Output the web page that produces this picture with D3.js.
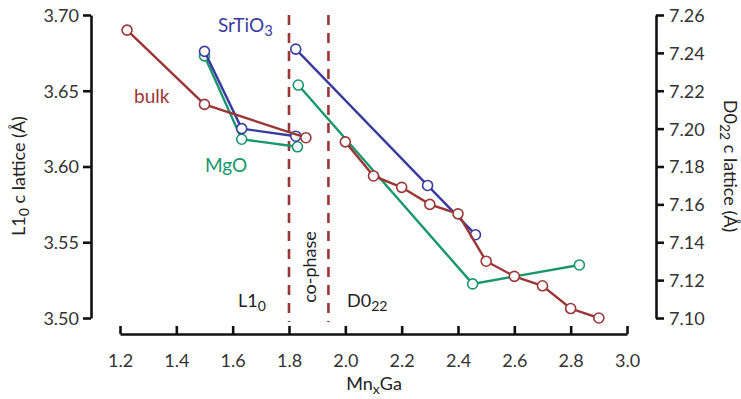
<!DOCTYPE html>
<html>
<head>
<meta charset="utf-8">
<script src="https://cdn.jsdelivr.net/npm/d3@7"></script>
<style>
  body { margin: 0; background: #fff; }
  svg text { font-family: Lato, "Open Sans", sans-serif; fill: #222; }
  .axis path, .axis line { stroke: #111; stroke-width: 2.6; }
  .axis text { font-size: 18px; fill: #333; }
</style>
</head>
<body>
<div id="chart"></div>
<script>
// composition x in MnxGa
var bulkL10X = [1.225, 1.50, 1.86];
var bulkL10C = [3.690, 3.641, 3.619];
var bulkD022X = [2.00, 2.10, 2.20, 2.30, 2.40, 2.50, 2.60, 2.70, 2.80, 2.90];
var bulkD022C = [7.193, 7.175, 7.169, 7.160, 7.155, 7.130, 7.122, 7.117, 7.105, 7.100];

var stoL10X = [1.50, 1.632, 1.824];
var stoL10C = [3.676, 3.625, 3.620];
var stoD022X = [1.824, 2.292, 2.462];
var stoD022C = [7.242, 7.170, 7.144];

var mgoL10X = [1.50, 1.632, 1.83];
var mgoL10C = [3.673, 3.618, 3.613];
var mgoD022X = [1.833, 2.452, 2.831];
var mgoD022C = [7.223, 7.118, 7.128];

var phaseBounds = [1.80, 1.94];

var xTicks = [1.2, 1.4, 1.6, 1.8, 2.0, 2.2, 2.4, 2.6, 2.8, 3.0];
var leftTicks = [3.50, 3.55, 3.60, 3.65, 3.70];
var rightTicks = [7.10, 7.12, 7.14, 7.16, 7.18, 7.20, 7.22, 7.24, 7.26];

var red = "#9c3636", blue = "#3a3b9e", green = "#17976b";

var width = 741, height = 399;
var svg = d3.select("#chart").append("svg")
    .attr("width", width)
    .attr("height", height);

var x = d3.scaleLinear().domain([1.2, 3.0]).range([120, 627]);
var yL = d3.scaleLinear().domain([3.50, 3.70]).range([318, 15]);
var yR = d3.scaleLinear().domain([7.10, 7.26]).range([318, 15]);

// axes
svg.append("g")
    .attr("class", "axis xAxis")
    .attr("transform", "translate(0,334)")
    .call(d3.axisBottom(x).tickValues(xTicks).tickFormat(d3.format(".1f"))
        .tickSizeInner(-8).tickSizeOuter(0).tickPadding(20));

svg.append("g")
    .attr("class", "axis yAxis")
    .attr("transform", "translate(91,0)")
    .call(d3.axisLeft(yL).tickValues(leftTicks).tickFormat(d3.format(".2f"))
        .tickSize(8).tickSizeOuter(0).tickPadding(4));

svg.append("g")
    .attr("class", "axis yAxis")
    .attr("transform", "translate(656,0)")
    .call(d3.axisRight(yR).tickValues(rightTicks).tickFormat(d3.format(".2f"))
        .tickSize(8).tickSizeOuter(0).tickPadding(5));

svg.selectAll(".yAxis text").attr("dy", "0.36em");

// phase boundaries
svg.selectAll("line.bound")
    .data(phaseBounds)
    .enter()
    .append("line")
    .attr("class", "bound")
    .attr("x1", d => x(d)).attr("x2", d => x(d))
    .attr("y1", 15).attr("y2", 322)
    .style("stroke", red)
    .style("stroke-width", 2.6)
    .style("stroke-dasharray", "10,8");

function series(xs, ys, yScale, color) {
    var pts = xs.map((v, i) => [v, ys[i]]);
    var line = d3.line().x(d => x(d[0])).y(d => yScale(d[1]));
    svg.append("path")
        .datum(pts)
        .attr("d", line)
        .style("fill", "none")
        .style("stroke", color)
        .style("stroke-width", 2.4);
    svg.append("g").selectAll("circle")
        .data(pts)
        .enter()
        .append("circle")
        .attr("cx", d => x(d[0]))
        .attr("cy", d => yScale(d[1]))
        .attr("r", 5)
        .style("fill", "#fff")
        .style("stroke", color)
        .style("stroke-width", 1.6);
}

series(mgoL10X, mgoL10C, yL, green);
series(stoL10X, stoL10C, yL, blue);
series(bulkL10X, bulkL10C, yL, red);
series(mgoD022X, mgoD022C, yR, green);
series(stoD022X, stoD022C, yR, blue);
series(bulkD022X, bulkD022C, yR, red);

// text with subscript
function subText(parent, parts, attrs) {
    var t = parent.append("text");
    Object.keys(attrs).forEach(k => t.attr(k, attrs[k]));
    parts.forEach(p => {
        var s = t.append("tspan").text(p[0]);
        if (p[1]) s.attr("baseline-shift", "-28%").style("font-size", "0.78em");
    });
    return t;
}

subText(svg, [["SrTiO"], ["3", true]], {x: 218, y: 32, "font-size": 19}).style("fill", blue);
svg.append("text").attr("x", 134).attr("y", 103).style("font-size", "19px").style("fill", red).text("bulk");
svg.append("text").attr("x", 205).attr("y", 172).style("font-size", "19px").style("fill", green).text("MgO");

subText(svg, [["L1"], ["0", true]], {x: 238, y: 307, "font-size": 18});
subText(svg, [["D0"], ["22", true]], {x: 347, y: 307, "font-size": 18});
svg.append("text")
    .attr("transform", "translate(316,267) rotate(-90)")
    .attr("text-anchor", "middle")
    .style("font-size", "18px")
    .text("co-phase");

// axis titles
svg.append("text")
    .attr("x", 374).attr("y", 390)
    .attr("text-anchor", "middle")
    .style("font-size", "18px")
    .call(t => {
        t.append("tspan").text("Mn");
        t.append("tspan").text("x").attr("baseline-shift", "-28%").style("font-size", "0.78em");
        t.append("tspan").text("Ga");
    });

subText(svg, [["L1"], ["0", true], [" c lattice (Å)"]],
    {transform: "translate(25,176) rotate(-90)", "text-anchor": "middle", "font-size": 18});
subText(svg, [["D0"], ["22", true], [" c lattice (Å)"]],
    {transform: "translate(724,166) rotate(90)", "text-anchor": "middle", "font-size": 18});
</script>
</body>
</html>
